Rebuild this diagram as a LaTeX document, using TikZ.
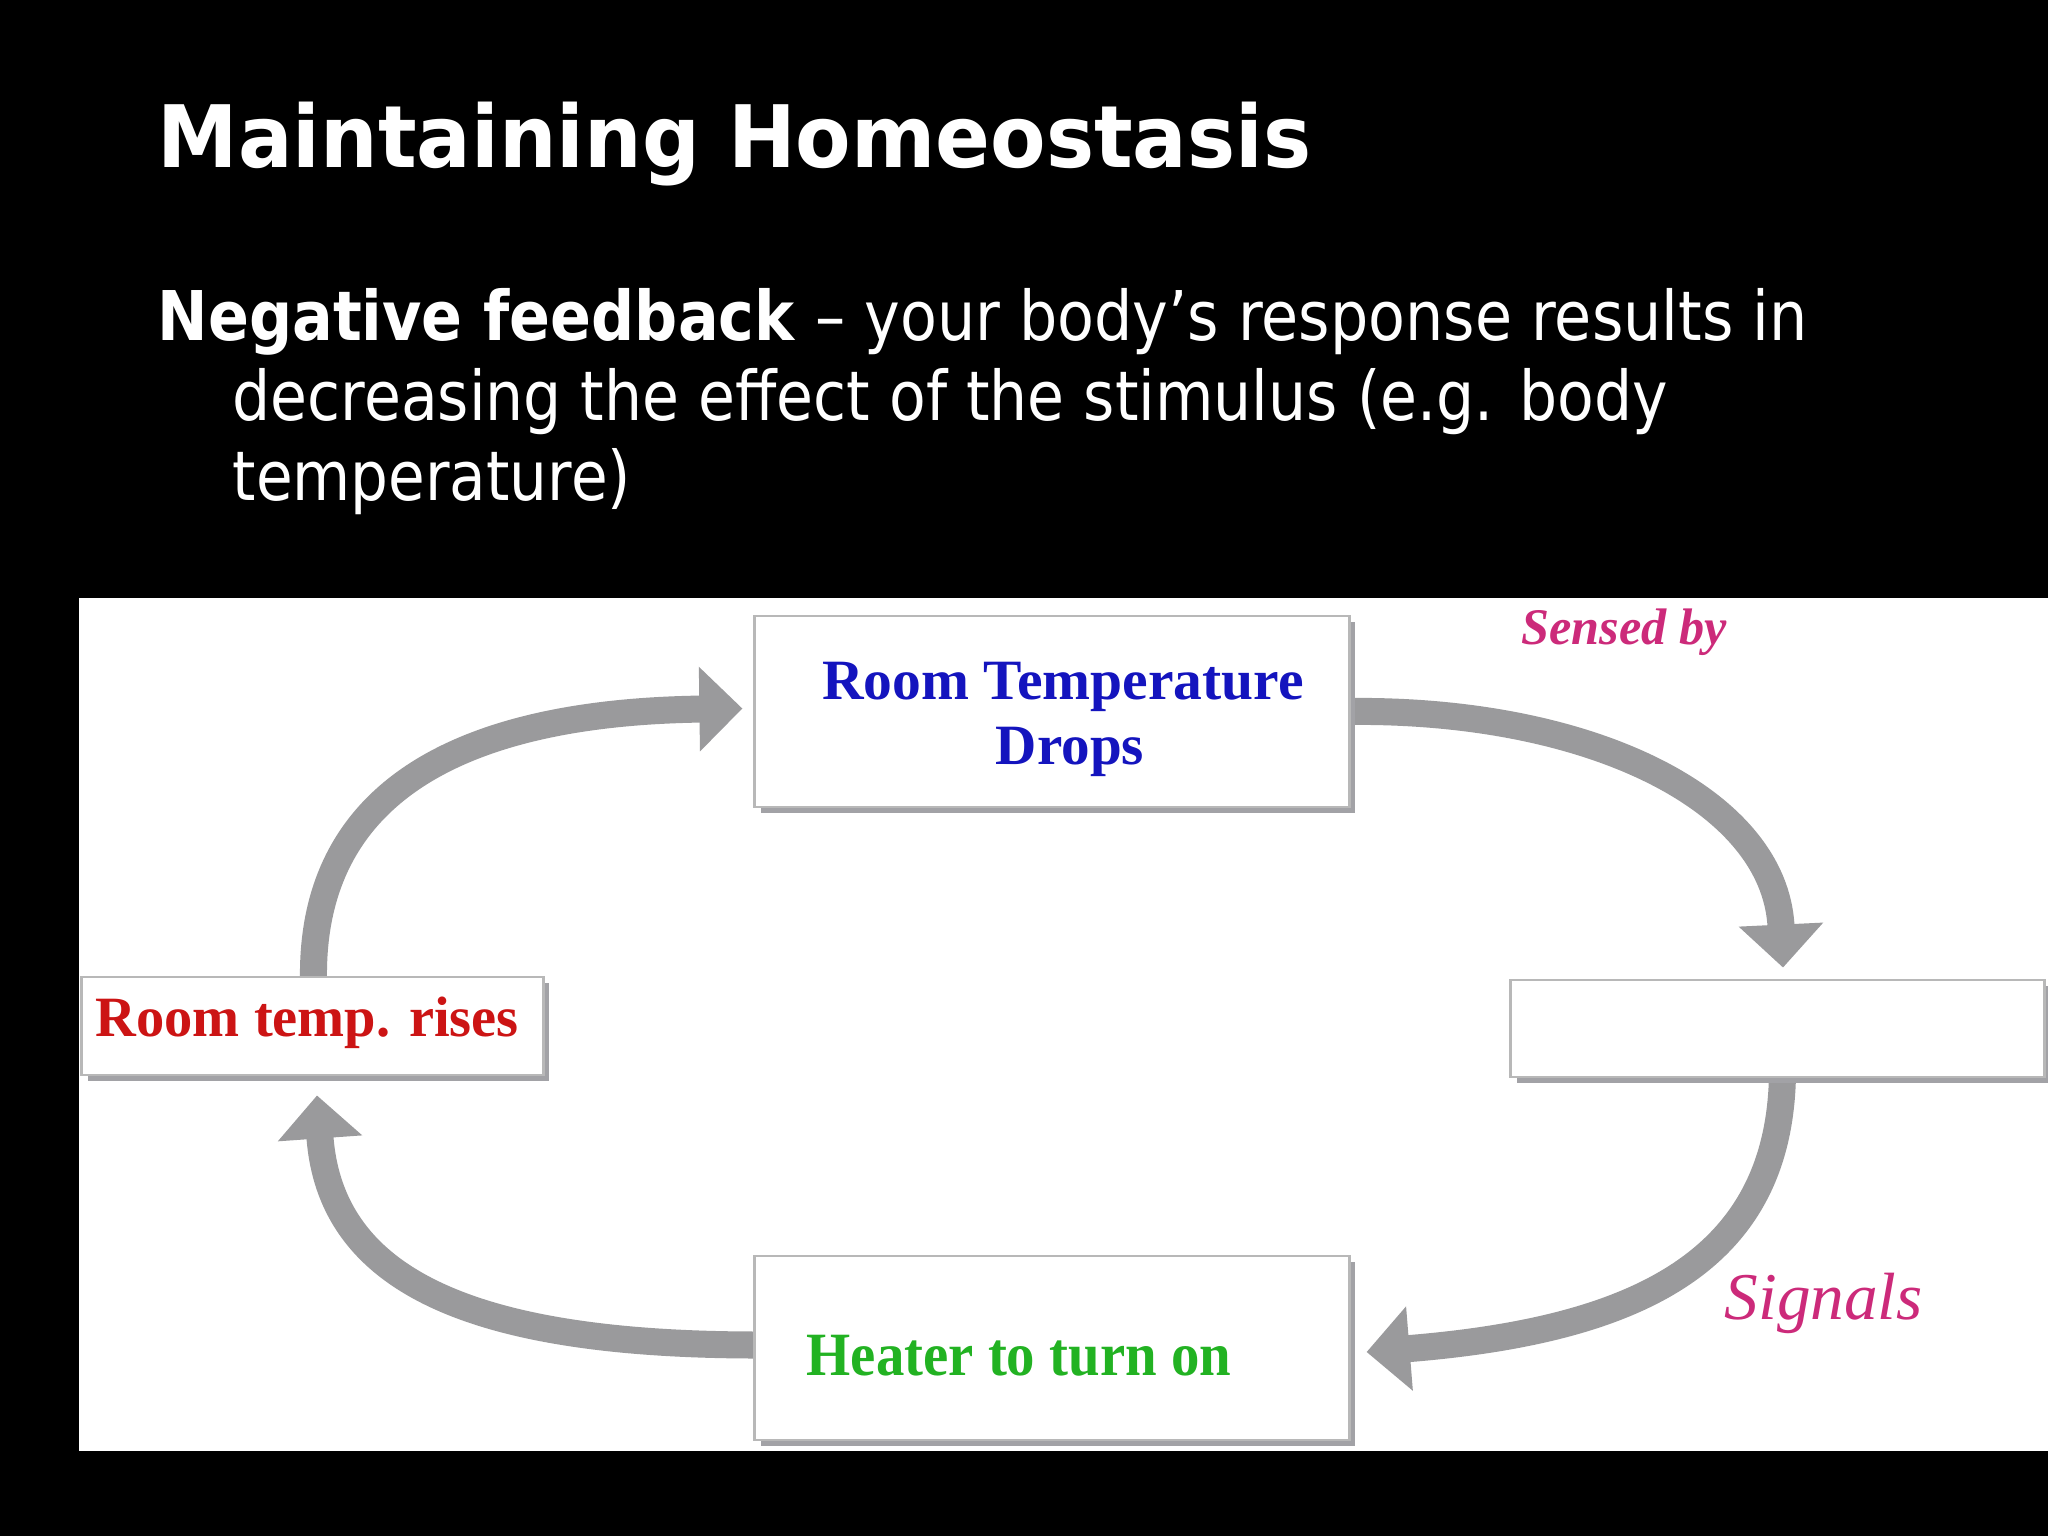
\documentclass[tikz,border=0pt]{standalone}
\usepackage{fontspec}
\setmainfont{Liberation Serif}
\newfontfamily\slidefont{DejaVu Sans}
\usetikzlibrary{arrows.meta,calc,shadows}
\pgfdeclarelayer{bg}
\pgfsetlayers{bg,main}
\definecolor{arrowgray}{HTML}{9A9A9C}
\definecolor{boxline}{HTML}{B8B8B8}
\definecolor{shadowgray}{HTML}{A2A2A6}
\definecolor{tblue}{HTML}{1414BE}
\definecolor{tred}{HTML}{CC1414}
\definecolor{tgreen}{HTML}{22B222}
\definecolor{tmag}{HTML}{CC2A7A}
\tikzset{
  box/.style={draw=boxline, line width=0.8pt, fill=white, inner sep=0pt,
    drop shadow={shadow xshift=0.06cm, shadow yshift=-0.06cm, fill=shadowgray, opacity=1}},
  flow/.style={draw=arrowgray, line width=0.27cm, -{Triangle[width=0.82cm,length=0.43cm]}},
  lbl/.style={inner sep=0pt, anchor=base west},
  clbl/.style={inner sep=0pt, anchor=base},
}
\begin{document}
\begin{tikzpicture}[x=0.01cm, y=-0.01cm]
\useasboundingbox (0,0) rectangle (2048,1536);
\begin{pgfonlayer}{bg}
  \fill[black] (0,0) rectangle (2048,1536);
  \fill[white] (79,598) rectangle (2048,1451);
\end{pgfonlayer}

% heading texts
\node[lbl, text=white] (title) at (157,167)
  {\resizebox{11.53cm}{\height}{\slidefont\bfseries\fontsize{24.5}{26}\selectfont Maintaining Homeostasis}};
\node[lbl, text=white] (line1) at (157,340)
  {\resizebox{16.49cm}{\height}{\slidefont\fontsize{19.5}{22}\selectfont\textbf{Negative feedback} – your body’s response results in}};
\node[lbl, text=white] (line2) at (232,420)
  {\resizebox{14.34cm}{\height}{\slidefont\fontsize{19.5}{22}\selectfont decreasing the effect of the stimulus (e.g. body}};
\node[lbl, text=white] (line3) at (232,500)
  {\resizebox{3.98cm}{\height}{\slidefont\fontsize{19.5}{22}\selectfont temperature)}};

% boxes
\node[box, minimum width=5.94cm, minimum height=1.91cm] (drops) at (1052,711.5) {};
\node[box, minimum width=4.61cm, minimum height=0.98cm] (rise) at (312.5,1026) {};
\node[box, minimum width=5.33cm, minimum height=0.97cm] (blank) at (1777.5,1028.5) {};
\node[box, minimum width=5.94cm, minimum height=1.84cm] (heater) at (1052,1348) {};

% box texts
\node[clbl, text=tblue] (dropsA) at (1063,699)
  {\resizebox{4.81cm}{\height}{\bfseries\fontsize{16.2}{18}\selectfont Room Temperature}};
\node[clbl, text=tblue] (dropsB) at (1070,764)
  {\resizebox{1.48cm}{\height}{\bfseries\fontsize{16.2}{18}\selectfont Drops}};
\node[lbl, text=tred] (riseT) at (95,1036)
  {\resizebox{4.23cm}{\height}{\bfseries\fontsize{16.2}{18}\selectfont Room temp. rises}};
\node[lbl, text=tgreen] (heaterT) at (806,1375)
  {\resizebox{4.24cm}{\height}{\bfseries\fontsize{17.5}{19}\selectfont Heater to turn on}};
\node[lbl, text=tmag] (sensed) at (1521,644)
  {\resizebox{2.05cm}{\height}{\bfseries\itshape\fontsize{14.6}{16}\selectfont Sensed by}};
\node[lbl, text=tmag] (signals) at (1724,1319)
  {\resizebox{1.98cm}{\height}{\itshape\fontsize{19}{21}\selectfont Signals}};

% connectors
\begin{pgfonlayer}{bg}
  \draw[flow] ($(rise.north)+(1,5)$) .. controls (310,780) and (480,712) .. ($(drops.west)+(-11,-3)$);
  \draw[flow] ($(drops.east)+(-5,0)$) .. controls (1590,708) and (1775,800) .. ($(blank.north)+(5.5,-11)$);
  \draw[flow] ($(blank.south)+(5,-5)$) .. controls (1780,1260) and (1640,1330) .. ($(heater.east)+(16,4)$);
  \draw[flow] ($(heater.west)+(5,-3)$) .. controls (470,1345) and (330,1280) .. ($(rise.south)+(4.5,19)$);
\end{pgfonlayer}
\end{tikzpicture}
\end{document}
